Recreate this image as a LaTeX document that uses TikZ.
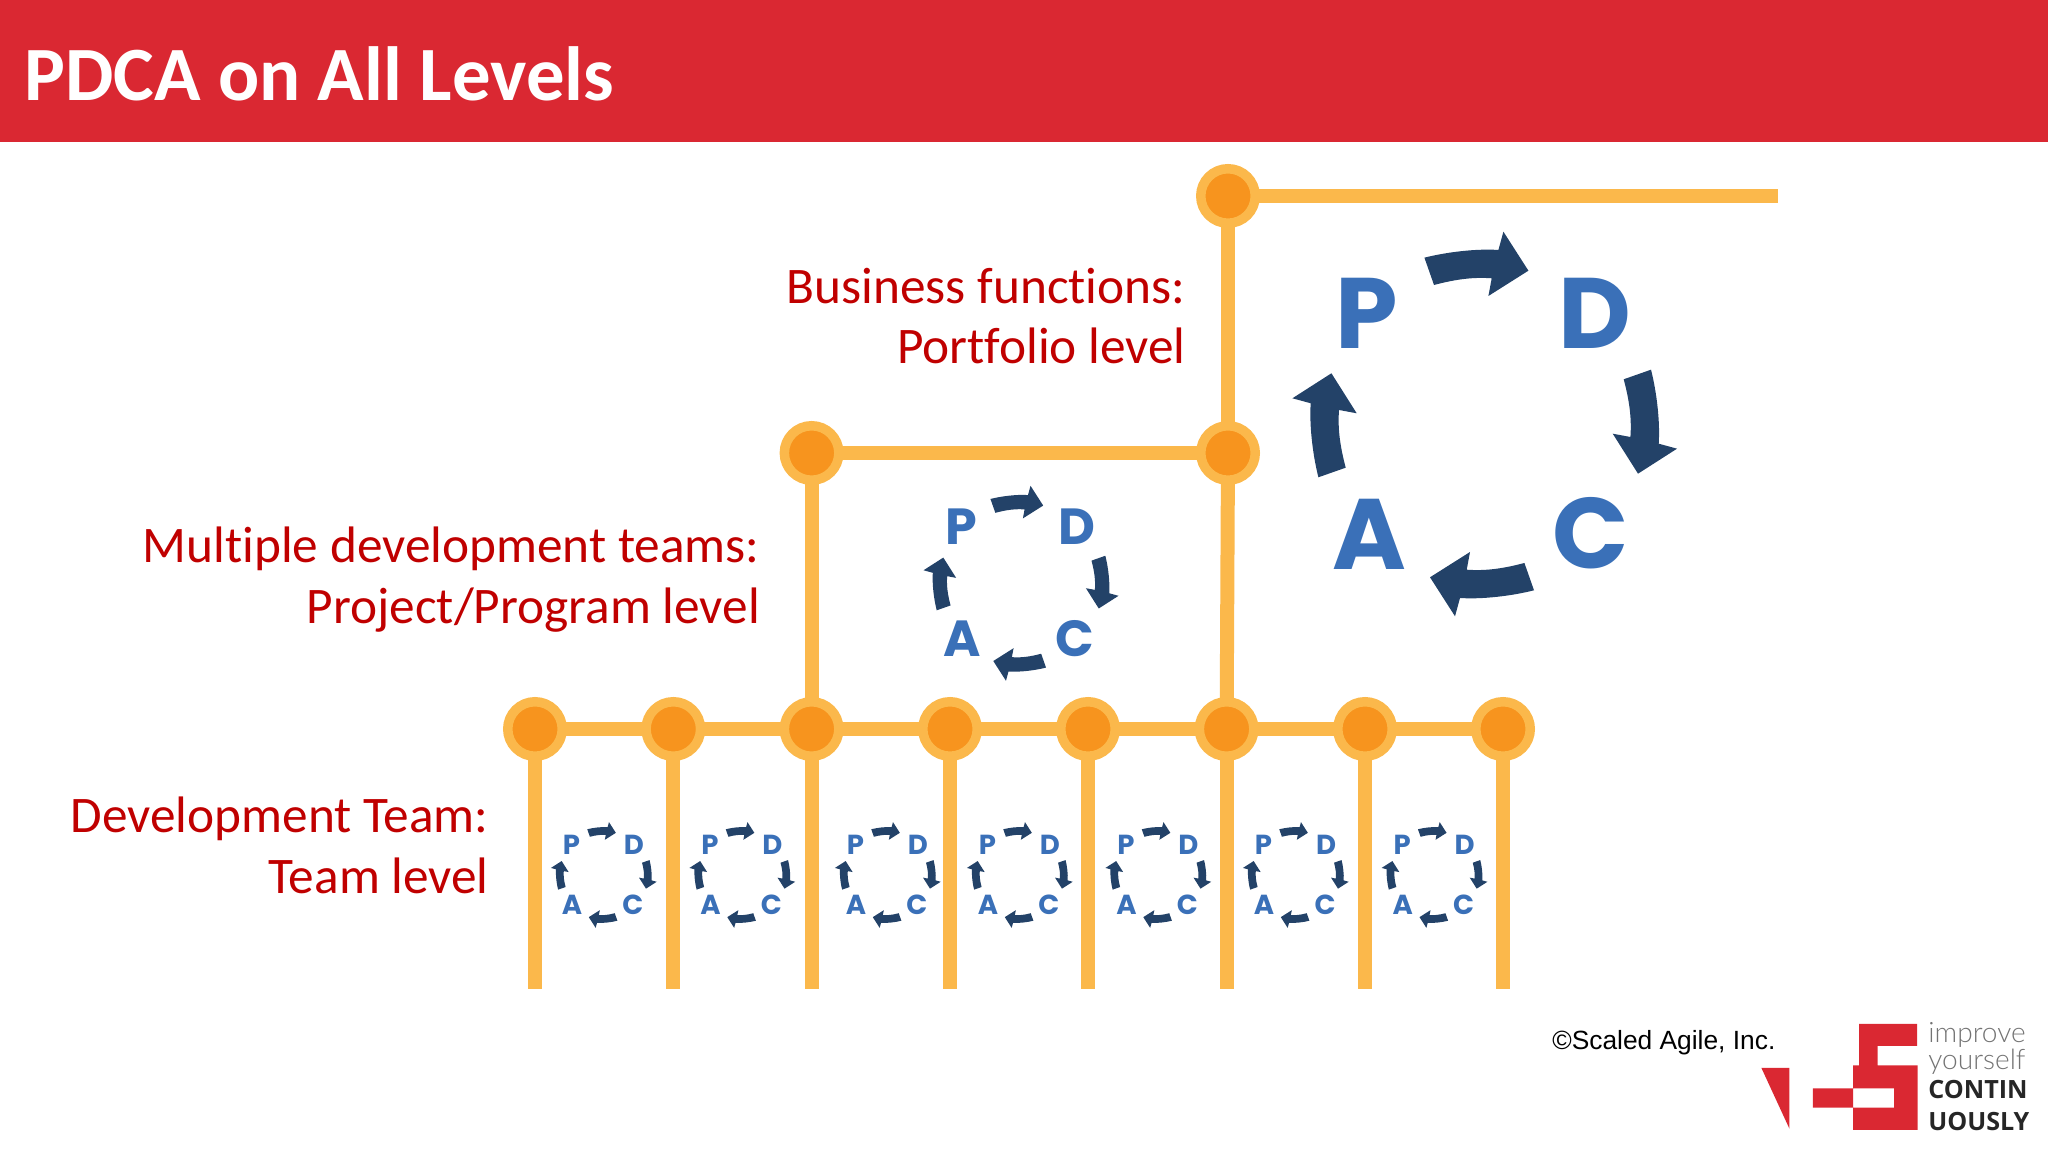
\documentclass[tikz,border=0pt]{standalone}
\usepackage{fontspec}
\setmainfont[Ligatures=NoCommon]{Carlito}
\newfontfamily\pdcafont{Poppins}
\newfontfamily\copyfont{Liberation Sans}
\newfontfamily\logofont{Open Sans}
\newfontfamily\logolight{Lato Light}
\definecolor{headerred}{HTML}{DA2832}
\definecolor{labelred}{HTML}{C00000}
\definecolor{trunk}{HTML}{FBB84B}
\definecolor{joint}{HTML}{F7941E}
\definecolor{cyclenavy}{HTML}{234268}
\definecolor{cycleblue}{HTML}{3A70B8}
\tikzset{
  joint/.style={circle, draw=trunk, fill=joint, line width=0.19cm, inner sep=0pt, minimum size=1.09cm},
  trunk/.style={draw=trunk, line width=0.28cm, shorten >=-1pt, shorten <=-1pt},
  level/.style={text=labelred, align=right, anchor=east, inner sep=0pt, font=\fontsize{29.2}{34.6}\selectfont},
  cycleletter/.style={text=cycleblue, inner sep=0pt, transform shape, font=\pdcafont\bfseries\fontsize{57}{57}\selectfont},
  logotext/.style={anchor=base west, inner sep=0pt},
  pdca/.pic={
    \foreach \ang/\dx/\dy in {0/0/0, -90/3/-3, -180/-5/0, -270/3/4}
      \fill[cyclenavy, shift={(\dx, \dy)}, rotate=\ang] (-57.3, 166.3) .. controls (-35, 172) and (-5, 175.5) .. (16.7, 174)
        -- (21.7, 192.3) -- (46.7, 153.3) -- (6.7, 128) -- (10, 145.7)
        .. controls (-8, 147) and (-25, 145) .. (-47.7, 139) -- cycle;
    \node[cycleletter] (-P) at (-115, 110.7) {P};
    \node[cycleletter] (-D) at (112.7, 110.7) {D};
    \node[cycleletter] (-C) at (109, -109) {C};
    \node[cycleletter] (-A) at (-112.3, -110) {A};
  }
}

\begin{document}
\begin{tikzpicture}[x=0.02cm, y=0.02cm]
  \useasboundingbox (0, 0) rectangle (2048, 1152);
  \fill[headerred] (0, 1010) rectangle (2048, 1152);
  \node[text=white, anchor=base west, inner sep=0pt, font=\bfseries\fontsize{43.7}{43.7}\selectfont] (title) at (24, 1051) {PDCA on All Levels};

  % joints, bottom row first
  \foreach \i/\x in {1/535, 2/673.3, 3/811.6, 4/950, 5/1088, 6/1226.6, 7/1365, 8/1503} {
    \node[joint] (team\i) at (\x, 423) {};
    \coordinate (foot\i) at (\x, 165);
    \draw[trunk] (team\i) -- (foot\i);
  }
  \node[joint] (prog1) at (811.6, 699) {};
  \node[joint] (prog2) at (1228, 699) {};
  \node[joint] (port) at (1228, 956) {};
  \coordinate (portend) at (1776, 956);

  \foreach \a/\b in {1/2, 2/3, 3/4, 4/5, 5/6, 6/7, 7/8}
    \draw[trunk] (team\a) -- (team\b);
  \draw[trunk] (team3) -- (prog1);
  \draw[trunk] (team6) -- (prog2);
  \draw[trunk] (prog1) -- (prog2);
  \draw[trunk] (prog2) -- (port);
  \draw[trunk] (port) -- (portend);

  % cycles
  \pic (big) at (1481.7, 728) {pdca};
  \pic[scale=0.507] (mid) at (1019.5, 568.7) {pdca};
  \foreach \i/\x in {1/603, 2/741.5, 3/887, 4/1019, 5/1157.5, 6/1295, 7/1433.7}
    \pic[scale=0.275] (small\i) at (\x, 277) {pdca};

  % labels
  \node[level] (portlabel) at (1186, 836) {Business functions:\\Portfolio level};
  \node[level] (proglabel) at (760, 572.4) {Multiple development teams:\\Project/Program level};
  \node[level] (teamlabel) at (489, 307) {Development Team:\\Team level};

  % footer
  \node[anchor=base west, inner sep=0pt, font=\copyfont\fontsize{15}{15}\selectfont] (copyright) at (1552, 102) {©Scaled Agile, Inc.};
  \fill[headerred] (1761.4, 84) -- (1789.4, 84) -- (1789.4, 23.3) -- cycle;
  \fill[headerred] (1859, 128) -- (1917, 128) -- (1917, 106) -- (1877.5, 106) -- (1877.5, 86.7)
    -- (1917.7, 86.7) -- (1917.7, 22) -- (1853, 22) -- (1853, 44.3) -- (1894, 44.3) -- (1894, 63.7)
    -- (1812.8, 63.7) -- (1812.8, 44.3) -- (1853, 44.3) -- (1853, 86.7) -- (1859, 86.7) -- cycle;
  \node[logotext, text=black!55, text depth=0pt, font=\logolight\fontsize{16}{16}\selectfont] (logoa) at (1928, 109) {improve};
  \node[logotext, text=black!55, font=\logolight\fontsize{16}{16}\selectfont] (logob) at (1928, 82) {yourself};
  \node[logotext, text=black!85, font=\logofont\bfseries\fontsize{14.3}{14.3}\selectfont] (logoc) at (1928, 53) {CONTIN};
  \node[logotext, text=black!85, font=\logofont\bfseries\fontsize{14.3}{14.3}\selectfont] (logod) at (1928, 21) {UOUSLY};
\end{tikzpicture}
\end{document}
